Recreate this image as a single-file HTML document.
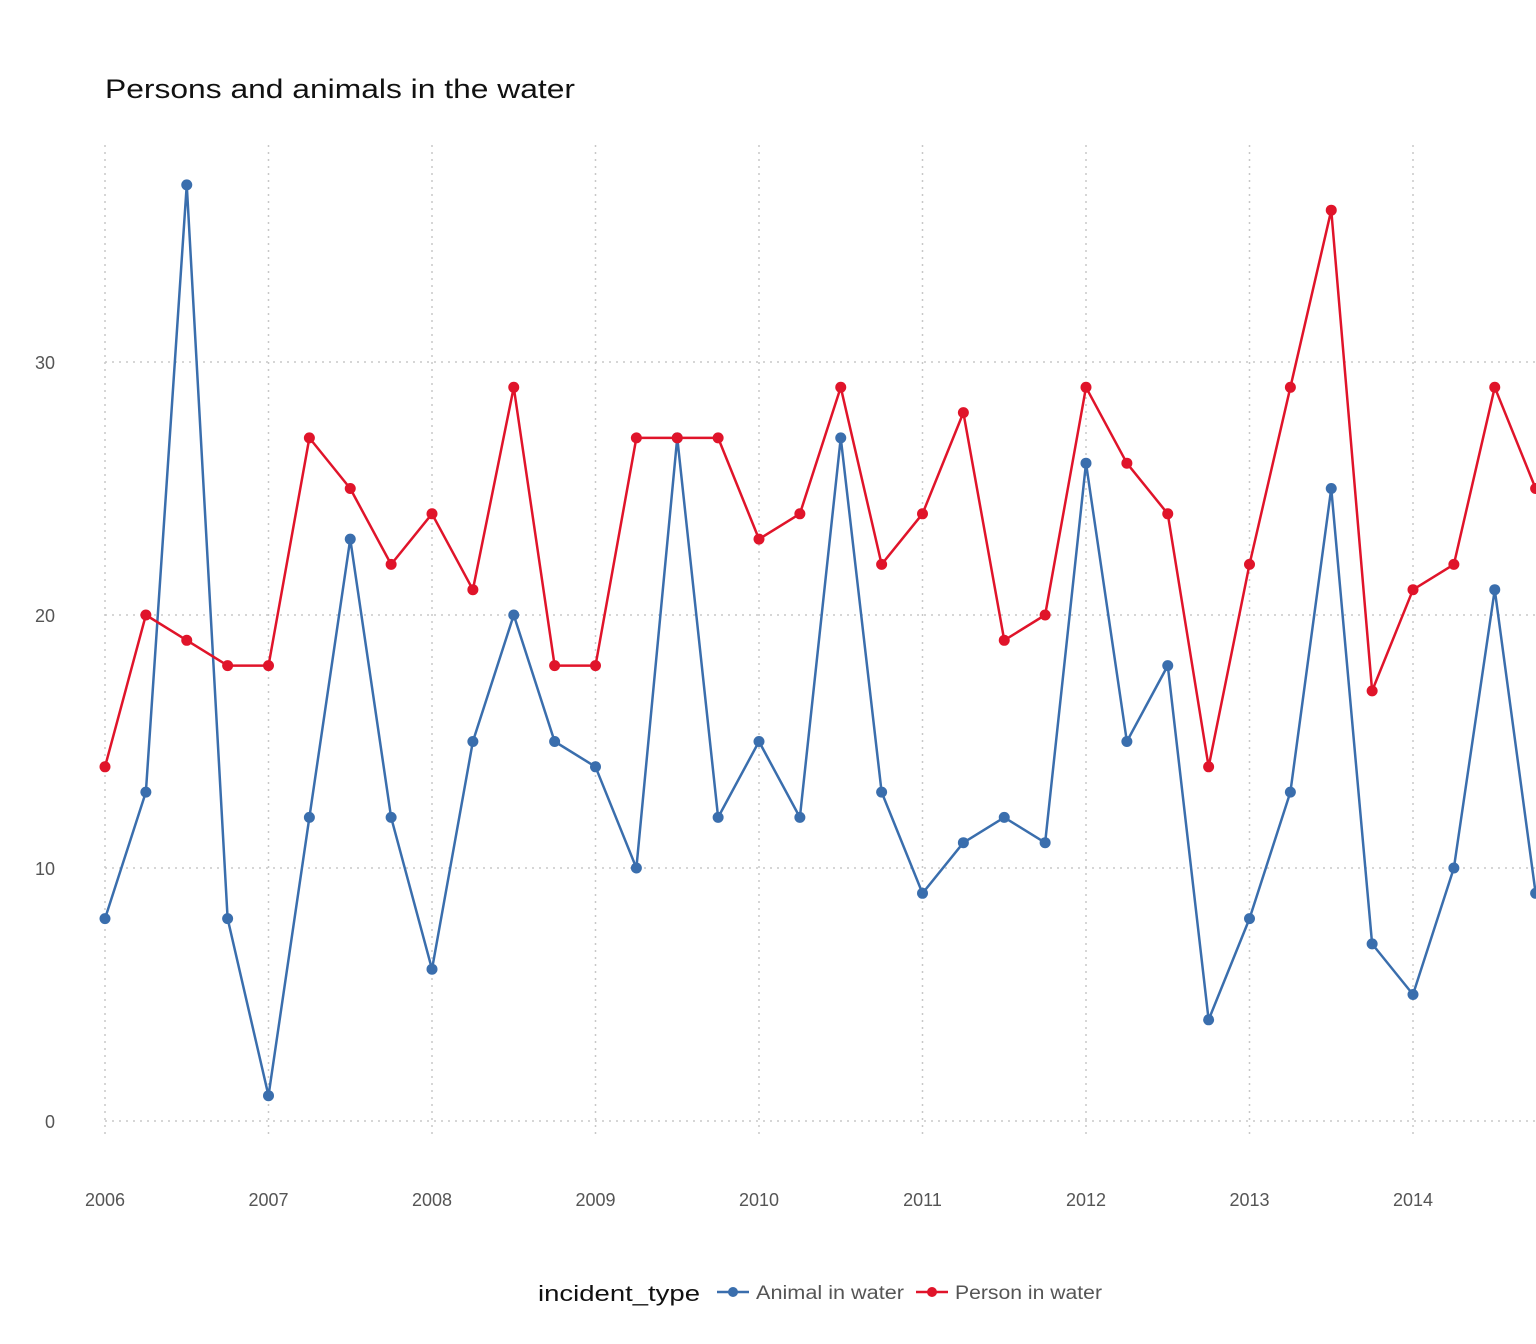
<!DOCTYPE html>
<html><head><meta charset="utf-8"><style>
html,body{margin:0;padding:0;background:#fff;}
svg{display:block;font-family:"Liberation Sans","DejaVu Sans",sans-serif;}
</style></head><body>
<svg id="chart" width="1536" height="1344" viewBox="0 0 1536 1344">
<text x="105" y="98" font-size="27" fill="#111" textLength="470" lengthAdjust="spacingAndGlyphs">Persons and animals in the water</text>
<g id="grid"></g>
<g id="axes"></g>
<g id="series"></g>
<g>
<text x="538" y="1301" font-size="22" fill="#111" textLength="162" lengthAdjust="spacingAndGlyphs">incident_type</text>
<g>
<line x1="717" y1="1292" x2="749" y2="1292" stroke="#3A6EAD" stroke-width="2.5"/>
<circle cx="733" cy="1292" r="5" fill="#3A6EAD"/>
<text x="756" y="1299" font-size="19" fill="#555" textLength="148" lengthAdjust="spacingAndGlyphs">Animal in water</text></g>
<g>
<line x1="916" y1="1292" x2="948" y2="1292" stroke="#E0142A" stroke-width="2.5"/>
<circle cx="932" cy="1292" r="5" fill="#E0142A"/>
<text x="955" y="1299" font-size="19" fill="#555" textLength="147" lengthAdjust="spacingAndGlyphs">Person in water</text></g>
</g>
</svg>
<script>
const startYear = 2006;
const animal = [8,13,37,8, 1,12,23,12, 6,15,20,15, 14,10,27,12, 15,12,27,13, 9,11,12,11, 26,15,18,4, 8,13,25,7, 5,10,21,9];
const person = [14,20,19,18, 18,27,25,22, 24,21,29,18, 18,27,27,27, 23,24,29,22, 24,28,19,20, 29,26,24,14, 22,29,36,17, 21,22,29,25];
const yTicks = [0,10,20,30];
const xTicks = [2006,2007,2008,2009,2010,2011,2012,2013,2014];

const NS = "http://www.w3.org/2000/svg";
function x(t){ return 105 + (t - 2006) * 163.5; }
function y(v){ return 1121 - v * 25.3; }
function mk(tag, attrs, parent){
  const e = document.createElementNS(NS, tag);
  for (const k in attrs) e.setAttribute(k, attrs[k]);
  parent.appendChild(e); return e;
}
const grid = document.getElementById('grid'), axes = document.getElementById('axes'), ser = document.getElementById('series');
yTicks.forEach(v => {
  const l = mk('line', {x1:105, x2:1536, y1:y(v), y2:y(v), stroke:'#c8c8c8', 'stroke-width':1.5, 'stroke-dasharray':'2,5'}, grid);
  
  
  const t = mk('text', {x:55, y:y(v)+7, 'font-size':18, fill:'#555', 'text-anchor':'end'}, axes);
  t.textContent = v;
  
  
});
xTicks.forEach(yr => {
  const l = mk('line', {x1:x(yr), x2:x(yr), y1:145, y2:1135, stroke:'#c8c8c8', 'stroke-width':1.5, 'stroke-dasharray':'2,5'}, grid);
  
  
  const t = mk('text', {x:x(yr), y:1206, 'font-size':18, fill:'#555', 'text-anchor':'middle'}, axes);
  t.textContent = yr;
  
  
});
function draw(data, color, name){
  const pts = data.map((v,i) => x(startYear + i*0.25) + ',' + y(v)).join(' ');
  const pl = mk('polyline', {points:pts, fill:'none', stroke:color, 'stroke-width':2.5, 'stroke-linejoin':'round'}, ser);
  
  
  data.forEach((v,i) => {
    const c = mk('circle', {cx:x(startYear + i*0.25), cy:y(v), r:5.5, fill:color}, ser);
    
    
  });
}
draw(animal, '#3A6EAD', 'animal');
draw(person, '#E0142A', 'person');
</script>
</body></html>
